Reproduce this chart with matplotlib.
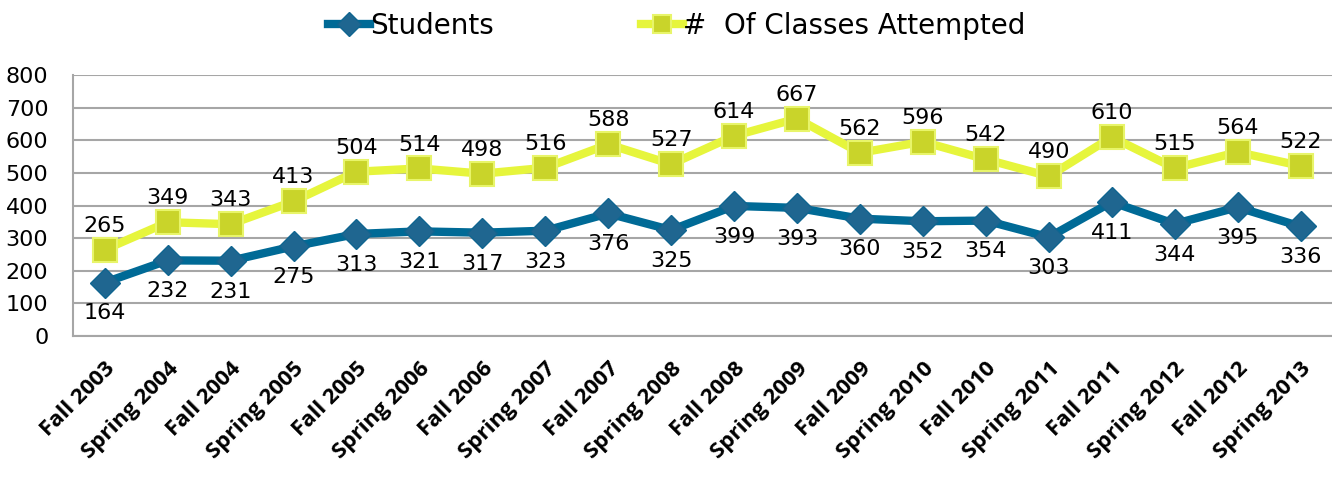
import matplotlib
matplotlib.use("Agg")
import matplotlib.pyplot as plt

terms = ["Fall 2003", "Spring 2004", "Fall 2004", "Spring 2005", "Fall 2005",
         "Spring 2006", "Fall 2006", "Spring 2007", "Fall 2007", "Spring 2008",
         "Fall 2008", "Spring 2009", "Fall 2009", "Spring 2010", "Fall 2010",
         "Spring 2011", "Fall 2011", "Spring 2012", "Fall 2012", "Spring 2013"]
students = [164, 232, 231, 275, 313, 321, 317, 323, 376, 325,
            399, 393, 360, 352, 354, 303, 411, 344, 395, 336]
classes = [265, 349, 343, 413, 504, 514, 498, 516, 588, 527,
           614, 667, 562, 596, 542, 490, 610, 515, 564, 522]

fig = plt.figure(figsize=(13.32, 4.79), dpi=100)
ax = fig.add_axes([0.055, 0.2985, 0.945, 0.5445])
x = range(len(terms))

ax.plot(x, students, "-D", color="#006a96", lw=6, ms=15,
        mfc="#1f6690", mec="#0f6590", mew=1, label="Students", zorder=3)
ax.plot(x, classes, "-s", color="#e6f53c", lw=6, ms=17,
        mfc="#c9d42a", mec="#e8f56a", mew=1.5,
        label="#  Of Classes Attempted", zorder=3)

for i, v in enumerate(students):
    ax.annotate(str(v), (i, v), xytext=(0, -15), textcoords="offset points",
                ha="center", va="top", fontsize=16, zorder=4)
for i, v in enumerate(classes):
    ax.annotate(str(v), (i, v), xytext=(0, 10), textcoords="offset points",
                ha="center", va="bottom", fontsize=16, zorder=4)

ax.set_xlim(-0.5, len(terms) - 0.5)
ax.set_ylim(0, 800)
ax.set_yticks(range(0, 801, 100))
ax.set_xticks(list(x))
ax.set_xticklabels(terms, rotation=45, ha="right", rotation_mode="anchor",
                   fontsize=17.5, fontweight="bold", family="Open Sans")
ax.tick_params(axis="both", length=0, labelsize=16)
ax.tick_params(axis="y", pad=18)
ax.tick_params(axis="x", pad=16)
ax.grid(axis="y", color="#a6a6a6", lw=1.5)
ax.set_axisbelow(True)
for s in ["top", "right"]:
    ax.spines[s].set_visible(False)
ax.spines["left"].set_color("#a6a6a6")
ax.spines["bottom"].set_color("#a6a6a6")
ax.spines["left"].set_linewidth(1.5)
ax.spines["bottom"].set_linewidth(1.5)

fig.legend(loc="center", bbox_to_anchor=(0.508, 0.946), ncol=2,
           frameon=False, fontsize=20, columnspacing=5.3, handlelength=1.5,
           handletextpad=0.0, markerscale=0.8)

fig.savefig("out.png", dpi=100)
